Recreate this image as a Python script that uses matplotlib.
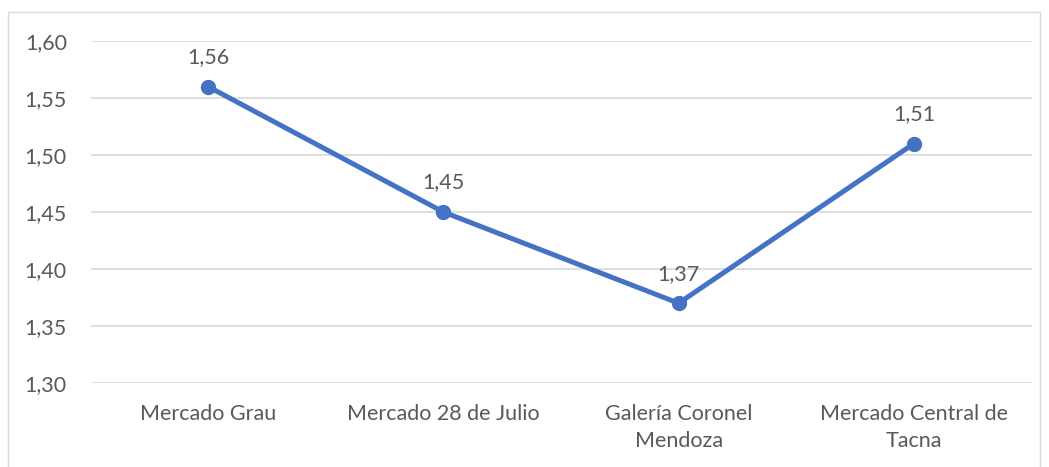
import matplotlib.pyplot as plt
from matplotlib.patches import Rectangle

categories = ['Mercado Grau', 'Mercado 28 de Julio', 'Galería Coronel\nMendoza', 'Mercado Central de\nTacna']
values = [1.56, 1.45, 1.37, 1.51]
yticks = [1.30, 1.35, 1.40, 1.45, 1.50, 1.55, 1.60]

plt.rcParams['font.family'] = ['Lato', 'DejaVu Sans']
txt = '#595959'
blue = '#4472C4'
fs = 15.5

fig = plt.figure(figsize=(10.49, 4.67), dpi=100)
ax = fig.add_axes([90.5 / 1049, 84 / 467, 941 / 1049, 342 / 467])

# chart border
fig.patches.append(Rectangle((8 / 1049, -0.05), 1032 / 1049, (455 + 0.05 * 467) / 467,
                             transform=fig.transFigure, fill=False,
                             edgecolor='#D9D9D9', linewidth=1))

x = range(len(categories))
ax.plot(x, values, color=blue, linewidth=3.6, marker='o', markersize=10, zorder=3)
for i, v in zip(x, values):
    ax.annotate(f'{v:.2f}'.replace('.', ','), (i, v), xytext=(0, 14),
                textcoords='offset points', ha='center', va='bottom',
                fontsize=fs, color=txt)

ax.set_xlim(-0.5, len(categories) - 0.5)
ax.set_ylim(1.30, 1.60)
ax.set_yticks(yticks)
ax.set_yticklabels([f'{t:.2f}'.replace('.', ',') for t in yticks])
ax.set_xticks(list(x))
ax.set_xticklabels(categories, linespacing=1.45)
ax.grid(axis='y', color='#D9D9D9', linewidth=1.2)
ax.set_axisbelow(True)
for s in ax.spines.values():
    s.set_visible(False)
ax.tick_params(length=0, labelsize=fs, labelcolor=txt)
ax.tick_params(axis='y', pad=17)
ax.tick_params(axis='x', pad=15)

fig.savefig('out.png', dpi=100)
